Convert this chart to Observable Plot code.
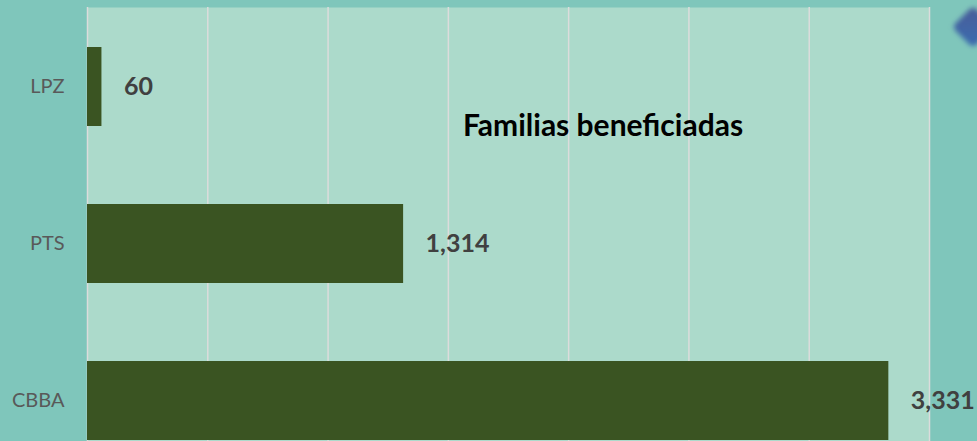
<!DOCTYPE html>
<html>
<head>
<meta charset="utf-8">
<script src="https://cdn.jsdelivr.net/npm/d3@7"></script>
<script src="https://cdn.jsdelivr.net/npm/@observablehq/plot@0.6"></script>
<style>
  html, body { margin: 0; padding: 0; background: #7fc6bb; overflow: hidden; }
  #wrap { position: relative; width: 977px; height: 441px; overflow: hidden; }
  #title { position: absolute; left: 0; width: 1206px; top: 109px; text-align: center; line-height: 30px;
           font-family: Lato, sans-serif; font-weight: bold; font-size: 30px; color: #000; pointer-events: none; }
  #deco { position: absolute; left: 958px; top: 12px; width: 30px; height: 30px; transform: rotate(45deg);
          background: linear-gradient(135deg, #4a5c98, #3a6db0); filter: blur(2.5px); border-radius: 5px; }
</style>
</head>
<body>
<div id="wrap"><div id="deco"></div><div id="title">Familias beneficiadas</div></div>
<script>
const categories = ["LPZ", "PTS", "CBBA"];
const values = [60, 1314, 3331];
const gridTicks = [0, 500, 1000, 1500, 2000, 2500, 3000, 3500];
const data = categories.map((c, i) => ({category: c, value: values[i]}));

const chart = Plot.plot({
  width: 977,
  height: 441,
  marginLeft: 87,
  marginRight: 48,
  marginTop: 7,
  marginBottom: -38,
  style: {background: "transparent", overflow: "visible"},
  x: {domain: [0, 3500], range: [87, 929], axis: null},
  y: {domain: categories, range: [7.5, 478.5], paddingInner: 0.5, paddingOuter: 0.25, label: null},
  marks: [
    Plot.frame({fill: "#acdacb", stroke: null}),
    Plot.ruleX(gridTicks, {stroke: "#dcdcdc", strokeWidth: 1.5}),
    Plot.barX(data, {x: "value", y: "category", fill: "#3a5422"}),
    Plot.axisY({tickSize: 0, tickPadding: 23, fontSize: 20, color: "#595959", fontFamily: "Lato, sans-serif"}),
    Plot.text(data, {x: "value", y: "category", text: d => d3.format(",")(d.value), dx: 22, textAnchor: "start",
      fontWeight: "bold", fontSize: 25, fill: "#404040", fontFamily: "Lato, sans-serif"})
  ]
});
chart.style.position = "absolute";
chart.style.left = "0";
chart.style.top = "0";
document.getElementById("wrap").prepend(chart);
</script>
</body>
</html>
